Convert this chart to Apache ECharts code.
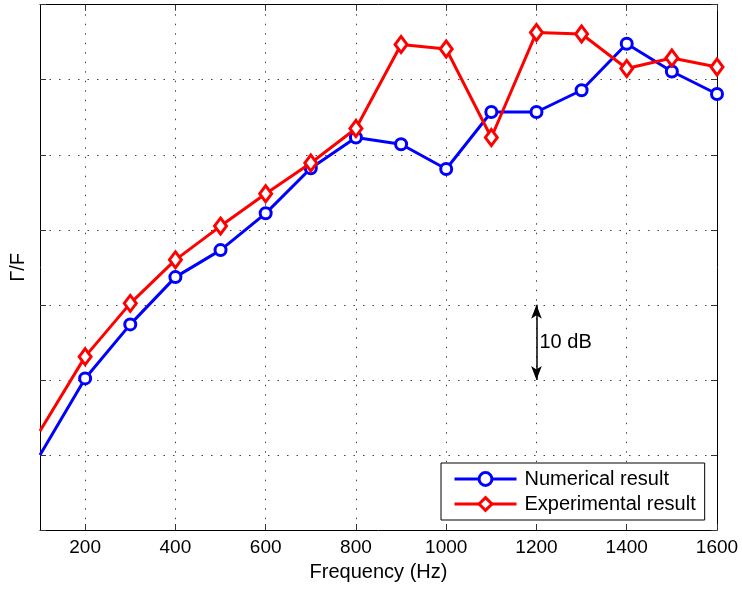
<!DOCTYPE html>
<html>
<head>
<meta charset="utf-8">
<script src="https://cdn.jsdelivr.net/npm/echarts@6/dist/echarts.min.js"></script>
<style>
html,body{margin:0;padding:0;background:#fff;}
#chart{width:742px;height:590px;}
</style>
</head>
<body>
<div id="chart"></div>
<script>
const frequencies = [100, 200, 300, 400, 500, 600, 700, 800, 900, 1000, 1100, 1200, 1300, 1400, 1500, 1600];
const numerical = [10.0, 20.2, 27.4, 33.7, 37.3, 42.2, 48.2, 52.3, 51.4, 48.1, 55.7, 55.7, 58.6, 64.8, 61.1, 58.1];
const experimental = [13.2, 23.1, 30.2, 36.0, 40.5, 44.8, 48.9, 53.5, 64.7, 64.1, 52.3, 66.3, 66.1, 61.5, 62.9, 61.7];
const seriesNames = ['Numerical result', 'Experimental result'];
const xTickValues = [200, 400, 600, 800, 1000, 1200, 1400, 1600];
const yTickValues = [0, 10, 20, 30, 40, 50, 60, 70];
const arrowFreq = 1200;
const arrowRange = [20, 30];
const arrowLabel = '10 dB';
const xAxisTitle = 'Frequency (Hz)';
const yAxisTitle = 'Γ/F';

const FONT = 'Liberation Sans, Arial, Helvetica, sans-serif';
// first sample (at the axis edge) is drawn without a marker, as in the reference
const pairs = (vals) => frequencies.map((f, i) => (i === 0 ? { value: [f, vals[i]], symbol: 'none' } : [f, vals[i]]));
const dotted = { color: '#444', width: 1, type: [1.5, 8] };

const chart = echarts.init(document.getElementById('chart'), null, { renderer: 'canvas' });
chart.setOption({
  animation: false,
  backgroundColor: '#fff',
  grid: { left: 39.7, right: 25, top: 4.7, bottom: 60, containLabel: false },
  xAxis: [
    {
      type: 'value', min: 100, max: 1600, interval: 100, position: 'bottom',
      name: xAxisTitle, nameLocation: 'middle', nameGap: 32,
      nameTextStyle: { fontFamily: FONT, fontSize: 20, color: '#000' },
      axisLine: { show: true, onZero: false, lineStyle: { color: '#000', width: 1 } },
      axisTick: { show: true, inside: true, length: 6, customValues: xTickValues, lineStyle: { color: '#333' } },
      axisLabel: { show: true, customValues: xTickValues, margin: 8, fontFamily: FONT, fontSize: 19, color: '#000',
        formatter: (v) => String(v) },
      splitLine: { show: true, lineStyle: dotted }
    },
    {
      type: 'value', min: 100, max: 1600, interval: 100, position: 'top',
      axisLine: { show: true, onZero: false, lineStyle: { color: '#000', width: 1 } },
      axisTick: { show: true, inside: true, length: 6, customValues: xTickValues, lineStyle: { color: '#333' } },
      axisLabel: { show: false },
      splitLine: { show: false }
    }
  ],
  yAxis: [
    {
      type: 'value', min: 0, max: 70, interval: 10, position: 'left',
      name: yAxisTitle, nameLocation: 'middle', nameGap: 12, nameRotate: 90,
      nameTextStyle: { fontFamily: FONT, fontSize: 20, color: '#000' },
      axisLine: { show: true, onZero: false, lineStyle: { color: '#000', width: 1 } },
      axisTick: { show: true, inside: true, length: 6, customValues: yTickValues, lineStyle: { color: '#333' } },
      axisLabel: { show: false },
      splitLine: { show: true, lineStyle: dotted }
    },
    {
      type: 'value', min: 0, max: 70, interval: 10, position: 'right',
      axisLine: { show: true, onZero: false, lineStyle: { color: '#000', width: 1 } },
      axisTick: { show: true, inside: true, length: 6, customValues: yTickValues, lineStyle: { color: '#333' } },
      axisLabel: { show: false },
      splitLine: { show: false }
    }
  ],
  legend: {
    data: seriesNames,
    orient: 'vertical',
    left: 441, top: 463,
    padding: [6, 9, 6, 12],
    itemGap: 5,
    itemWidth: 62, itemHeight: 16,
    backgroundColor: '#fff',
    borderColor: '#000', borderWidth: 1, borderRadius: 0,
    lineStyle: { width: 3 },
    itemStyle: { borderWidth: 3 },
    textStyle: { fontFamily: FONT, fontSize: 20, color: '#000', lineHeight: 20, padding: [0, 0, 0, 3] }
  },
  series: [
    {
      name: seriesNames[0], type: 'line', data: pairs(numerical),
      color: '#0000ff',
      symbol: 'circle', symbolSize: 11,
      lineStyle: { color: '#0000ff', width: 3 },
      itemStyle: { color: '#ffffff', borderColor: '#0000ff', borderWidth: 3, opacity: 1 },
      z: 3,
      markLine: {
        silent: true, symbol: ['arrow', 'arrow'], symbolSize: [8, 14],
        lineStyle: { color: '#000', width: 1.5, type: 'solid' },
        label: { show: false },
        data: [[{ coord: [arrowFreq, arrowRange[0]] }, { coord: [arrowFreq, arrowRange[1]] }]]
      }
    },
    {
      name: seriesNames[1], type: 'line', data: pairs(experimental),
      color: '#ff0000',
      symbol: 'diamond', symbolSize: [12, 16],
      lineStyle: { color: '#ff0000', width: 3 },
      itemStyle: { color: '#ffffff', borderColor: '#ff0000', borderWidth: 3, opacity: 1 },
      z: 4
    },
    {
      name: 'annotation', type: 'scatter', silent: true,
      data: [[arrowFreq, (arrowRange[0] + arrowRange[1]) / 2]],
      symbolSize: 0,
      itemStyle: { opacity: 1 },
      label: { show: true, position: 'right', distance: 3, formatter: arrowLabel, fontFamily: FONT, fontSize: 20, color: '#000', opacity: 1 }
    }
  ]
});
</script>
</body>
</html>
